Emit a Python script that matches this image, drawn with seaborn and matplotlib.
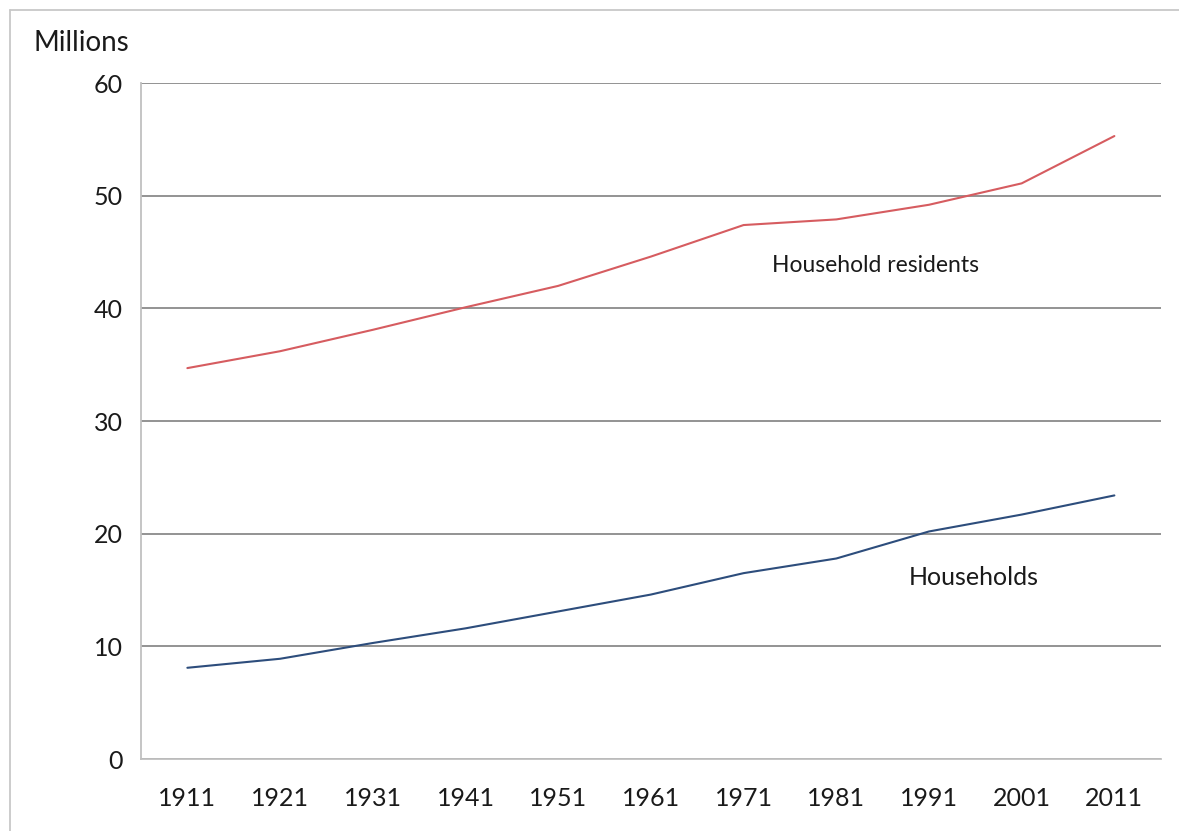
import numpy as np
import pandas as pd
import matplotlib
matplotlib.use('Agg')
import matplotlib.pyplot as plt
import seaborn as sns
from matplotlib.lines import Line2D

years = ['1911', '1921', '1931', '1941', '1951', '1961', '1971', '1981', '1991', '2001', '2011']
residents = [34.7, 36.2, 38.1, 40.1, 42.0, 44.6, 47.4, 47.9, 49.2, 51.1, 55.3]
households = [8.1, 8.9, 10.3, 11.6, 13.1, 14.6, 16.5, 17.8, 20.2, 21.7, 23.4]
series_names = ['Household residents', 'Households']
y_ticks = [0, 10, 20, 30, 40, 50, 60]

df = pd.DataFrame({'year': years * 2,
                   'value': residents + households,
                   'series': [series_names[0]] * len(years) + [series_names[1]] * len(years)})

sns.set_style('white')
plt.rcParams['font.family'] = ['Lato', 'DejaVu Sans']

fig = plt.figure(figsize=(11.79, 8.31), dpi=100)
ax = fig.add_axes([0.1196, 0.0866, 0.8649, 0.8134])

sns.lineplot(data=df, x='year', y='value', hue='series',
             palette={series_names[0]: '#d65c60', series_names[1]: '#2d4d7c'},
             linewidth=1.5, legend=False, ax=ax)

ax.set_xlim(-0.5, len(years) - 0.5)
ax.set_ylim(0, 60)
ax.set_yticks(y_ticks)
ax.set_xlabel('')
ax.set_ylabel('')
ax.yaxis.grid(True, color='#8a8a8a', linewidth=1.3)
ax.set_axisbelow(True)
for s in ['top', 'right']:
    ax.spines[s].set_visible(False)
for s in ['left', 'bottom']:
    ax.spines[s].set_color('#c0c0c0')
    ax.spines[s].set_linewidth(1.3)
ax.tick_params(axis='both', length=0, labelsize=18, colors='#1a1a1a')
ax.tick_params(axis='x', pad=20)
ax.tick_params(axis='y', pad=13)

# line labels
ax.text(6.31, 43.8, 'Household residents', fontsize=16.5, color='#1a1a1a', va='center')
ax.text(7.78, 16.15, 'Households', fontsize=18, color='#1a1a1a', va='center')

fig.text(33 / 1179, 1 - 43 / 831, 'Millions', fontsize=20, color='#1a1a1a', va='center')

# outer frame (top and left edges)
fig.add_artist(Line2D([10 / 1179, 1], [1 - 10 / 831, 1 - 10 / 831], color='#c8c8c8', linewidth=1.3))
fig.add_artist(Line2D([10 / 1179, 10 / 1179], [0, 1 - 10 / 831], color='#c8c8c8', linewidth=1.3))

fig.savefig('out.png', dpi=100)
